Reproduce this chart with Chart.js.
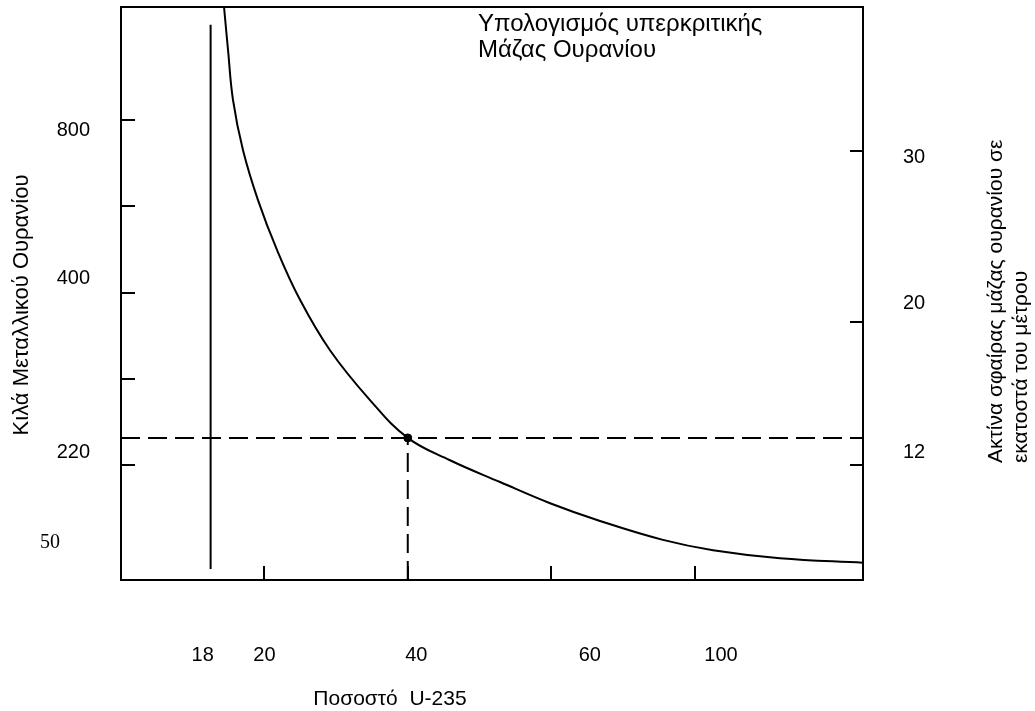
<!DOCTYPE html>
<html lang="el">
<head>
    <meta charset="UTF-8">
    <title>Κρίσιμη μάζα ουρανίου</title>
    <script src="https://cdn.jsdelivr.net/npm/chart.js"></script>
    <style>
* { margin: 0; padding: 0; box-sizing: border-box; }
html, body { width: 1035px; height: 711px; background: #fff; }
.chart-container { position: relative; width: 1035px; height: 711px; }
    </style>
</head>
<body>
    <div class="chart-container">
        <canvas id="massChart"></canvas>
    </div>

    <script>
        // curve (x = enrichment axis units, y = height units 0-100)
        const curveX = [14.37, 14.93, 15.62, 17.02, 19.11, 21.76, 24.97, 29.15, 34.73, 40, 45.89, 52.87, 59.85, 66.82, 75.6, 82.58, 91.92, 103.5];
        const curveY = [100, 92.5, 83.8, 75.0, 66.3, 57.6, 48.9, 40.1, 31.4, 24.8, 20.9, 17.1, 13.4, 10.3, 7.0, 5.2, 3.8, 3.0];

        // marked point (40% U-235) and the 18% threshold line
        const markX = 40, markY = 24.8;
        const thresholdX = 12.5, thresholdY = [1.9, 96.9];

        // tick marks
        const xTickAt = [20, 40, 60, 80];
        const leftTickAt = [20.1, 35.1, 50.1, 65.2, 80.3];
        const rightTickAt = [20.1, 45.0, 74.9];

        // tick labels
        const xLabels = ['18', '20', '40', '60', '100'];
        const xLabelAt = [11.4, 20, 41.2, 65.4, 83.7];
        const leftLabels = ['800', '400', '220'];
        const leftLabelAt = [78.5, 52.7, 22.2];
        const lowLabels = ['50'];
        const lowLabelAt = [6.5];
        const rightLabels = ['30', '20', '12'];
        const rightLabelAt = [73.8, 48.3, 22.2];

        const xMax = 103.5;
        const sans = '"Liberation Sans", Arial, sans-serif';

        const pts = (xs, ys) => xs.map((x, i) => ({x: x, y: ys[i]}));
        const fixTicks = (values) => (scale) => { scale.ticks = values.map(v => ({value: v})); };
        const noPad = (size, key) => (scale) => {
            scale[key] = size;
            scale.paddingLeft = scale.paddingRight = scale.paddingTop = scale.paddingBottom = 0;
        };
        const labelAxis = (extra) => Object.assign({
            type: 'linear',
            min: 0,
            max: 100,
            grid: { display: false, drawTicks: false },
            border: { display: false }
        }, extra);

        const framePlugin = {
            id: 'frame',
            afterDatasetsDraw(chart) {
                const { ctx, chartArea: a, scales } = chart;
                ctx.save();
                ctx.strokeStyle = '#000';
                ctx.lineWidth = 2;
                ctx.strokeRect(a.left, a.top, a.right - a.left, a.bottom - a.top);

                ctx.beginPath();
                xTickAt.forEach(v => {
                    const px = Math.round(scales.x.getPixelForValue(v));
                    ctx.moveTo(px, a.bottom);
                    ctx.lineTo(px, a.bottom - 14);
                });
                leftTickAt.forEach(v => {
                    const py = Math.round(scales.y.getPixelForValue(v));
                    ctx.moveTo(a.left, py);
                    ctx.lineTo(a.left + 14, py);
                });
                rightTickAt.forEach(v => {
                    const py = Math.round(scales.y2.getPixelForValue(v));
                    ctx.moveTo(a.right, py);
                    ctx.lineTo(a.right - 13, py);
                });
                ctx.stroke();

                ctx.fillStyle = '#000';
                ctx.textBaseline = 'middle';

                ctx.font = '24px ' + sans;
                ctx.textAlign = 'left';
                ctx.fillText('Υπολογισμός υπερκριτικής', 478, 24);
                ctx.fillText('Μάζας Ουρανίου', 478, 50);

                ctx.font = '21px ' + sans;
                ctx.textAlign = 'center';
                ctx.fillText('Ποσοστό  U-235', 390, 699);

                ctx.save();
                ctx.font = '22px ' + sans;
                ctx.translate(22, 305);
                ctx.rotate(-Math.PI / 2);
                ctx.fillText('Κιλά Μεταλλικού Ουρανίου', 0, 0);
                ctx.restore();

                ctx.save();
                ctx.translate(996, 463);
                ctx.rotate(-Math.PI / 2);
                ctx.textAlign = 'left';
                ctx.fillText('Ακτίνα σφαίρας μάζας ουρανίου σε', 0, 0);
                ctx.fillText('εκατοστά του μέτρου', 0, 25);
                ctx.restore();

                ctx.restore();
            }
        };

        new Chart(document.getElementById('massChart'), {
            type: 'scatter',
            data: {
                datasets: [
                    {
                        data: pts(curveX, curveY),
                        showLine: true,
                        borderColor: '#000',
                        borderWidth: 2,
                        pointRadius: 0,
                        tension: 0.4
                    },
                    {
                        data: pts([thresholdX, thresholdX], thresholdY),
                        showLine: true,
                        borderColor: '#000',
                        borderWidth: 2,
                        pointRadius: 0
                    },
                    {
                        data: pts([0, xMax], [markY, markY]),
                        showLine: true,
                        borderColor: '#000',
                        borderWidth: 2,
                        borderDash: [19, 8],
                        pointRadius: 0
                    },
                    {
                        data: pts([markX, markX], [0, markY]),
                        showLine: true,
                        borderColor: '#000',
                        borderWidth: 2,
                        borderDash: [19, 8],
                        pointRadius: 0
                    },
                    {
                        data: [{x: markX, y: markY}],
                        pointRadius: 4,
                        pointBackgroundColor: '#000',
                        pointBorderColor: '#000'
                    }
                ]
            },
            options: {
                responsive: true,
                maintainAspectRatio: false,
                animation: false,
                layout: { padding: { top: 7, left: 0, right: 0, bottom: 0 } },
                plugins: {
                    legend: { display: false },
                    tooltip: { enabled: false }
                },
                scales: {
                    x: {
                        type: 'linear',
                        position: 'bottom',
                        min: 0,
                        max: xMax,
                        grid: { display: false, drawTicks: false },
                        border: { display: false },
                        afterBuildTicks: fixTicks(xLabelAt),
                        afterFit: noPad(131, 'height'),
                        ticks: {
                            autoSkip: false,
                            maxRotation: 0,
                            padding: 63,
                            color: '#000',
                            font: { family: sans, size: 20 },
                            callback: (v, i) => xLabels[i]
                        }
                    },
                    y: labelAxis({
                        position: 'left',
                        weight: 0,
                        afterBuildTicks: fixTicks(leftLabelAt),
                        afterFit: noPad(121, 'width'),
                        ticks: {
                            padding: 31,
                            color: '#000',
                            font: { family: sans, size: 20 },
                            callback: (v, i) => leftLabels[i]
                        }
                    }),
                    // the "50" label is set in a serif face, further left
                    ylow: labelAxis({
                        position: 'left',
                        weight: 1,
                        afterBuildTicks: fixTicks(lowLabelAt),
                        afterFit: noPad(0, 'width'),
                        ticks: {
                            mirror: true,
                            padding: 40,
                            color: '#000',
                            font: { family: '"Liberation Serif", "Times New Roman", serif', size: 20 },
                            callback: (v, i) => lowLabels[i]
                        }
                    }),
                    y2: labelAxis({
                        position: 'right',
                        afterBuildTicks: fixTicks(rightLabelAt),
                        afterFit: noPad(172, 'width'),
                        ticks: {
                            padding: 40,
                            color: '#000',
                            font: { family: sans, size: 20 },
                            callback: (v, i) => rightLabels[i]
                        }
                    })
                }
            },
            plugins: [framePlugin]
        });
    </script>
</body>
</html>
